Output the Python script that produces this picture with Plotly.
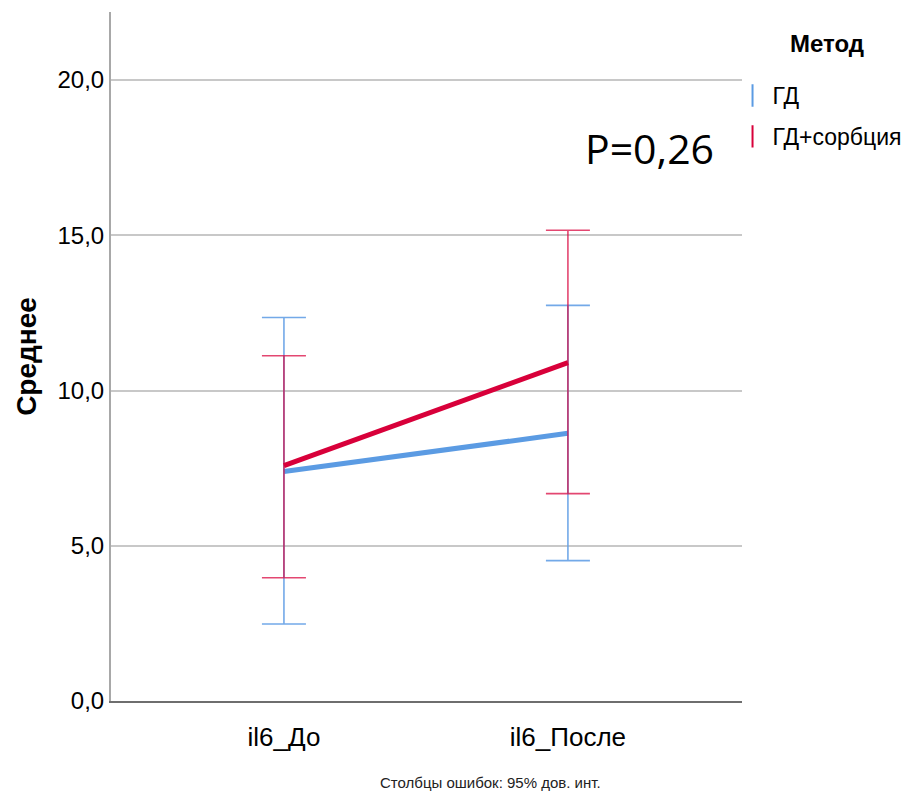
import plotly.graph_objects as go

categories = ["il6_До", "il6_После"]
groups = ["ГД", "ГД+сорбция"]
means_gd = [7.39, 8.62]
ci_low_gd = [2.48, 4.52]
ci_high_gd = [12.35, 12.74]
means_gds = [7.58, 10.90]
ci_low_gds = [3.97, 6.68]
ci_high_gds = [11.12, 15.16]
ytick_vals = [0, 5, 10, 15, 20]
ytick_text = ["0,0", "5,0", "10,0", "15,0", "20,0"]

colors = ["#5B9BE3", "#D8003A"]
bar_colors = ["rgba(100,160,230,0.9)", "rgba(216,0,58,0.72)"]

series = [
    (groups[0], means_gd, ci_low_gd, ci_high_gd),
    (groups[1], means_gds, ci_low_gds, ci_high_gds),
]

fig = go.Figure()
for i, (name, m, lo, hi) in enumerate(series):
    fig.add_trace(go.Scatter(
        x=categories, y=m, mode="lines", name=name, showlegend=False,
        line=dict(color=colors[i], width=5),
        error_y=dict(type="data", symmetric=False,
                     array=[h - v for h, v in zip(hi, m)],
                     arrayminus=[v - l for v, l in zip(m, lo)],
                     color=bar_colors[i], thickness=1.6, width=22),
    ))

for i, name in enumerate(groups):
    fig.add_trace(go.Scatter(
        x=[None], y=[None], mode="markers", name=name, legendgroup=name,
        marker=dict(symbol="line-ns-open", size=22, color=colors[i],
                    line=dict(width=2, color=colors[i])),
    ))

font_main = "Liberation Sans, Arial, sans-serif"

fig.update_layout(
    width=904, height=786,
    margin=dict(l=103, r=170, t=4, b=93),
    plot_bgcolor="white", paper_bgcolor="white",
    font=dict(family=font_main, color="black"),
    showlegend=True,
    legend=dict(
        x=0.985, y=0.910, xanchor="left", yanchor="top",
        font=dict(size=23, family=font_main),
        tracegroupgap=8, itemwidth=30, bgcolor="rgba(0,0,0,0)",
    ),
    xaxis=dict(
        type="category", range=[-0.609, 1.613],
        showgrid=False, showline=True, linecolor="#6E6E6E", linewidth=2,
        ticks="", tickfont=dict(size=26, family=font_main),
        ticklabelstandoff=12,
    ),
    yaxis=dict(
        range=[0, 22.19], tickvals=ytick_vals, ticktext=ytick_text,
        showgrid=True, gridcolor="#C8C8C8", gridwidth=2,
        showline=True, linecolor="#A8A8A8", linewidth=2,
        zeroline=False, ticks="",
        tickfont=dict(size=24, family=font_main),
        title=dict(text="<b>Среднее</b>", font=dict(size=28, family=font_main),
                   standoff=13),
    ),
    annotations=[
        dict(text="<b>Метод</b>", x=1.1347, y=0.955, xref="paper", yref="paper",
             showarrow=False, xanchor="center", yanchor="middle",
             font=dict(size=24, family=font_main, color="black")),
        dict(text="P=0,26", x=0.853, y=0.803, xref="paper", yref="paper",
             showarrow=False, xanchor="center", yanchor="middle",
             font=dict(size=41, family="Open Sans, Carlito, sans-serif", color="black")),
        dict(text="Столбцы ошибок: 95% дов. инт.", x=0.602, y=-0.1176,
             xref="paper", yref="paper", showarrow=False,
             xanchor="center", yanchor="middle",
             font=dict(size=15, family="Liberation Sans Narrow, Arial Narrow, Liberation Sans, sans-serif",
                       color="#222222")),
    ],
)

fig.write_html("out.html")
